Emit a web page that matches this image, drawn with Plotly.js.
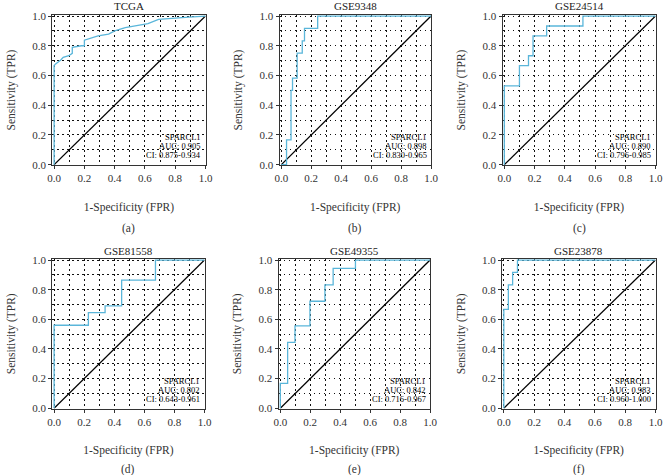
<!DOCTYPE html>
<html><head><meta charset="utf-8">
<script src="https://cdn.plot.ly/plotly-3.0.1.min.js"></script>
<style>html,body{margin:0;padding:0;background:#fff}#chart{width:664px;height:475px}</style>
</head><body><div id="chart"></div>
<script>
// ---- data ----
const panelTitles = ["TCGA", "GSE9348", "GSE24514", "GSE81558", "GSE49355", "GSE23878"];
const panelLetters = ["(a)", "(b)", "(c)", "(d)", "(e)", "(f)"];
const geneName = "SPARCL1";
const aucLabels = ["AUC: 0.905", "AUC: 0.898", "AUC: 0.890", "AUC: 0.802", "AUC: 0.842", "AUC: 0.983"];
const ciLabels = ["CI: 0.875-0.934", "CI: 0.830-0.965", "CI: 0.796-0.985", "CI: 0.643-0.961", "CI: 0.716-0.967", "CI: 0.960-1.000"];
const tickValues = [0, 0.2, 0.4, 0.6, 0.8, 1.0];
const tickLabels = ["0.0", "0.2", "0.4", "0.6", "0.8", "1.0"];
const diagX = [0, 1];
const diagY = [0, 1];

const tcgaFpr = [0, 0, 0.01, 0.027, 0.044, 0.06, 0.097, 0.12, 0.12, 0.18, 0.2, 0.2, 0.237, 0.29, 0.36, 0.40, 0.47, 0.535, 0.62, 0.69, 0.80, 0.89, 1.0];
const tcgaTpr = [0, 0.667, 0.678, 0.689, 0.704, 0.722, 0.733, 0.749, 0.789, 0.80, 0.80, 0.838, 0.851, 0.867, 0.878, 0.90, 0.922, 0.933, 0.949, 0.978, 0.984, 0.993, 1.0];

const gse9348Fpr = [0, 0.035, 0.035, 0.065, 0.075, 0.106, 0.14, 0.155, 0.243, 1.0];
const gse9348Tpr = [0, 0, 0.167, 0.5, 0.583, 0.75, 0.833, 0.917, 1.0, 1.0];

const gse24514Fpr = [0, 0, 0.1, 0.16, 0.19, 0.28, 0.52, 1.0];
const gse24514Tpr = [0, 0.53, 0.667, 0.733, 0.867, 0.933, 1.0, 1.0];

const gse81558Fpr = [0, 0, 0.228, 0.339, 0.449, 0.674, 1.0];
const gse81558Tpr = [0, 0.56, 0.645, 0.69, 0.865, 1.0, 1.0];

const gse49355Fpr = [0, 0, 0.049, 0.098, 0.198, 0.298, 0.353, 0.502, 1.0];
const gse49355Tpr = [0, 0.167, 0.444, 0.556, 0.722, 0.833, 0.944, 1.0, 1.0];

const gse23878Fpr = [0, 0, 0.03, 0.058, 0.09, 1.0];
const gse23878Tpr = [0, 0.667, 0.833, 0.917, 1.0, 1.0];

const curvesFpr = [tcgaFpr, gse9348Fpr, gse24514Fpr, gse81558Fpr, gse49355Fpr, gse23878Fpr];
const curvesTpr = [tcgaTpr, gse9348Tpr, gse24514Tpr, gse81558Tpr, gse49355Tpr, gse23878Tpr];
const curveShapes = ["linear", "hv", "hv", "hv", "hv", "hv"];

// ---- layout geometry ----
const W = 664, H = 475;
const xPx = [[52.3, 205.5], [279.5, 431], [502.5, 655.5], [52.3, 204.5], [278.5, 430], [502, 655.5]];
const rowPx = [[15, 165], [259, 408.5]];
const FONT = "Liberation Serif, Times New Roman, serif";
const BLUE = "#5ab6da";

const traces = [];
const layout = {
  width: W, height: H,
  margin: {l: 0, r: 0, t: 0, b: 0},
  paper_bgcolor: "#fff", plot_bgcolor: "#fff",
  showlegend: false,
  font: {family: FONT, size: 11, color: "#222"},
  annotations: []
};

for (let i = 0; i < 6; i++) {
  const n = i + 1;
  const xa = n === 1 ? "x" : "x" + n;
  const ya = n === 1 ? "y" : "y" + n;
  const row = i < 3 ? 0 : 1;
  const yTop = rowPx[row][0], yBot = rowPx[row][1];
  const ph = yBot - yTop;
  const gridStyle = {showgrid: true, gridcolor: "#111", griddash: "1.5px,3.5px", gridwidth: 1};
  const common = {
    range: [-0.012, 1.0],
    tickmode: "array", tickvals: tickValues, ticktext: tickLabels,
    ticks: "outside", ticklen: 3, tickcolor: "#333", tickwidth: 1,
    showline: true, mirror: true, linecolor: "#333", linewidth: 1,
    zeroline: false,
    tickfont: {family: FONT, size: 11, color: "#333"},
    minor: Object.assign({dtick: 0.1, tick0: 0, ticks: ""}, gridStyle),
    fixedrange: true
  };
  Object.assign(common, gridStyle);
  layout["xaxis" + (n === 1 ? "" : n)] = Object.assign({}, common, {
    domain: [xPx[i][0] / W, xPx[i][1] / W],
    anchor: ya,
    title: {text: "1-Specificity (FPR)", font: {family: FONT, size: 11.5, color: "#333"}, standoff: 19}
  });
  layout["yaxis" + (n === 1 ? "" : n)] = Object.assign({}, common, {
    range: [-0.002, 1.007],
    domain: [(H - yBot) / H, (H - yTop) / H],
    anchor: xa,
    title: {text: "Sensitivity (TPR)", font: {family: FONT, size: 11.5, color: "#333"}, standoff: 14}
  });

  traces.push({
    type: "scatter", mode: "lines", x: diagX, y: diagY, xaxis: xa, yaxis: ya,
    line: {color: "#000", width: 1.2}, hoverinfo: "skip"
  });
  traces.push({
    type: "scatter", mode: "lines", x: curvesFpr[i], y: curvesTpr[i], xaxis: xa, yaxis: ya,
    line: {color: BLUE, width: 1.3, shape: curveShapes[i]}, name: geneName
  });

  const xr = xa + " domain", yr = ya + " domain";
  layout.annotations.push({
    text: panelTitles[i], xref: xr, yref: yr, x: 0.5, y: 1 + 8.5 / ph,
    xanchor: "center", yanchor: "middle", showarrow: false,
    font: {family: FONT, size: 11, color: "#222"}
  });
  layout.annotations.push({
    text: panelLetters[i], xref: xr, yref: yr, x: 0.5, y: -(row === 0 ? 63 : 60.5) / ph,
    xanchor: "center", yanchor: "middle", showarrow: false,
    font: {family: FONT, size: 11.5, color: "#333"}
  });
  const lines = [geneName, aucLabels[i], ciLabels[i]];
  const offs = [28, 19, 10];
  for (let k = 0; k < 3; k++) {
    layout.annotations.push({
      text: lines[k], xref: xr, yref: yr, x: 0.985, y: offs[k] / ph,
      xanchor: "right", yanchor: "middle", showarrow: false,
      font: {family: FONT, size: 8.5, color: "#000"}
    });
  }
}

Plotly.newPlot("chart", traces, layout, {staticPlot: true, displayModeBar: false});
</script>
</body></html>
